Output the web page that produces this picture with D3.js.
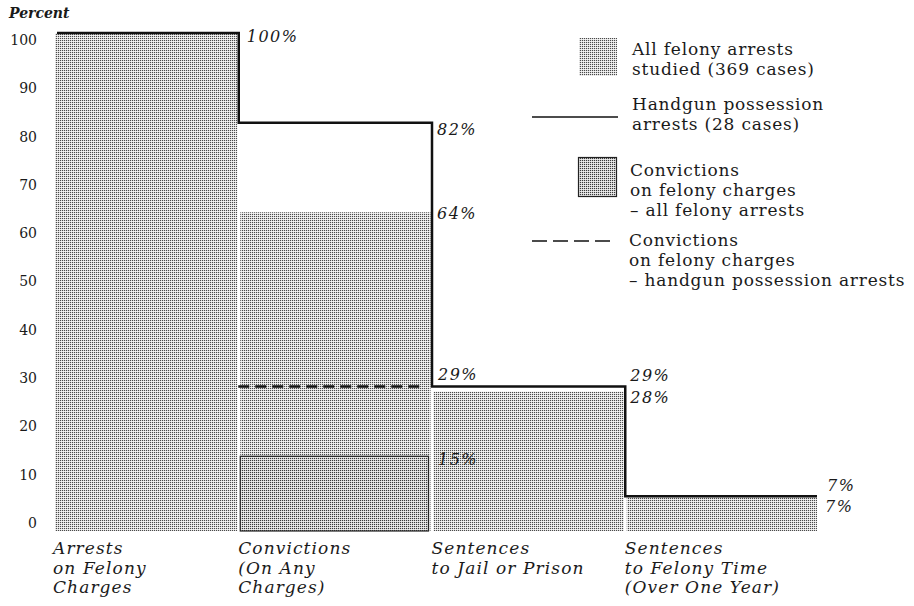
<!DOCTYPE html>
<html>
<head>
<meta charset="utf-8">
<script src="https://cdn.jsdelivr.net/npm/d3@7"></script>
<style>
  html, body { margin: 0; padding: 0; background: #fff; }
  svg { display: block; }
  text { font-family: "DejaVu Serif", "Liberation Serif", serif; fill: #1a1a1a; }
</style>
</head>
<body>
<svg id="chart" width="914" height="606"></svg>
<script>
// ---------------- data ----------------
const categories = [
  "Arrests on Felony Charges",
  "Convictions (On Any Charges)",
  "Sentences to Jail or Prison",
  "Sentences to Felony Time (Over One Year)"
];
const categoryLines = [
  ["Arrests", "on Felony", "Charges"],
  ["Convictions", "(On Any", "Charges)"],
  ["Sentences", "to Jail or Prison"],
  ["Sentences", "to Felony Time", "(Over One Year)"]
];
const allFelonyArrests = [100, 64, 28, 7];          // shaded bars (369 cases)
const handgunArrests = [100, 82, 29, 7];            // solid step line (28 cases)
const felonyConvictionsAll = 15;                    // darker box, Convictions column
const felonyConvictionsHandgun = 29;                // dashed line, Convictions column
const yTicks = [0, 10, 20, 30, 40, 50, 60, 70, 80, 90, 100];
const legendLabels = [
  ["All felony arrests", "studied (369 cases)"],
  ["Handgun possession", "arrests (28 cases)"],
  ["Convictions", "on felony charges", "\u2013 all felony arrests"],
  ["Convictions", "on felony charges", "\u2013 handgun possession arrests"]
];

// ---------------- layout ----------------
const svg = d3.select("#chart");
const plotLeft = 55;
const x = d3.scaleBand().domain(categories).range([47, 817]).paddingInner(3 / 193).paddingOuter(0);
const y = d3.scaleLinear().domain([0, 100]).range([531, 33]);
const yLab = d3.scaleLinear().domain([0, 100]).range([523, 40]);
const bw = x.bandwidth();
const gap = x.step() - bw;
const left = c => Math.max(x(c), plotLeft);
const edge = i => x(categories[i]) + bw + (i < categories.length - 1 ? gap / 2 : 0);

// patterns (halftone-ish stipple)
const defs = svg.append("defs");
function stipple(id, cols) {
  const p = defs.append("pattern").attr("id", id).attr("patternUnits", "userSpaceOnUse")
    .attr("width", 2).attr("height", 2);
  [[0, 0], [1, 0], [0, 1], [1, 1]].forEach((d, i) =>
    p.append("rect").attr("x", d[0]).attr("y", d[1]).attr("width", 1).attr("height", 1).attr("fill", cols[i]));
}
stipple("lightDots", ["#4a4a4a", "#d6d6d6", "#e2e2e2", "#f5f5f5"]);
stipple("darkDots", ["#3a3a3a", "#cbcbcb", "#d8d8d8", "#eeeeee"]);

svg.append("rect").attr("width", 914).attr("height", 606).attr("fill", "#fff");

// ---------------- bars ----------------
svg.append("g").selectAll("rect")
  .data(categories)
  .join("rect")
  .attr("x", c => left(c))
  .attr("width", c => x(c) + bw - left(c))
  .attr("y", (c, i) => y(allFelonyArrests[i]))
  .attr("height", (c, i) => y(0) - y(allFelonyArrests[i]))
  .attr("fill", "url(#lightDots)");

// felony convictions — all felony arrests (darker box)
const convCat = categories[1];
svg.append("rect")
  .attr("x", x(convCat))
  .attr("width", bw - 2)
  .attr("y", y(felonyConvictionsAll))
  .attr("height", y(0) - y(felonyConvictionsAll))
  .attr("fill", "url(#darkDots)")
  .attr("stroke", "#222")
  .attr("stroke-width", 1.2);

// felony convictions — handgun (dashed)
svg.append("line")
  .attr("x1", x(convCat) - 2).attr("x2", x(convCat) + bw - 8)
  .attr("y1", y(felonyConvictionsHandgun)).attr("y2", y(felonyConvictionsHandgun))
  .attr("stroke", "#111").attr("stroke-width", 2.5).attr("stroke-dasharray", "11,6");

// handgun possession step line
const stepPts = [];
handgunArrests.forEach((v, i) => {
  const x0 = i === 0 ? plotLeft + 2 : edge(i - 1);
  stepPts.push([x0, y(v)], [edge(i), y(v)]);
});
svg.append("path")
  .attr("d", d3.line()(stepPts))
  .attr("fill", "none").attr("stroke", "#111").attr("stroke-width", 2.5)
  .attr("stroke-linejoin", "miter");

// ---------------- value labels ----------------
const annotations = [
  { v: handgunArrests[0], col: 0, dx: 8, dy: 4 },
  { v: handgunArrests[1], col: 1, dx: 5, dy: 8 },
  { v: allFelonyArrests[1], col: 1, dx: 5, dy: 2 },
  { v: felonyConvictionsHandgun, col: 1, dx: 6, dy: -11 },
  { v: felonyConvictionsAll, col: 1, dx: 6, dy: 4 },
  { v: handgunArrests[2], col: 2, dx: 5, dy: -10 },
  { v: allFelonyArrests[2], col: 2, dx: 5, dy: 7 },
  { v: handgunArrests[3], col: 3, dx: 10, dy: -10 },
  { v: allFelonyArrests[3], col: 3, dx: 8, dy: 11 }
];
svg.append("g").selectAll("text")
  .data(annotations)
  .join("text")
  .attr("x", d => edge(d.col) + d.dx)
  .attr("y", d => y(d.v) + d.dy)
  .attr("dominant-baseline", "middle")
  .attr("font-style", "italic")
  .attr("font-size", 16)
  .attr("letter-spacing", 1.5)
  .text(d => d.v + "%");

// ---------------- axis ----------------
const axis = d3.axisLeft(yLab).tickValues(yTicks).tickSize(0).tickPadding(0).tickFormat(d3.format("d"));
const gA = svg.append("g").attr("transform", "translate(37,0)").call(axis);
gA.select(".domain").remove();
gA.selectAll("text")
  .attr("font-family", "DejaVu Serif, serif")
  .attr("font-size", 14)
  .attr("fill", "#1a1a1a");

svg.append("text").attr("x", 9).attr("y", 18)
  .attr("font-style", "italic").attr("font-weight", "bold").attr("font-size", 14)
  .text("Percent");

// ---------------- category labels ----------------
const catG = svg.append("g").selectAll("text")
  .data(categories)
  .join("text")
  .attr("font-style", "italic")
  .attr("font-size", 17)
  .attr("letter-spacing", 1.1);
catG.each(function (c, i) {
  d3.select(this).selectAll("tspan")
    .data(categoryLines[i])
    .join("tspan")
    .attr("x", left(c) - 2)
    .attr("y", (t, j) => y(0) + 23 + j * 19.5)
    .text(t => t);
});

// ---------------- legend ----------------
const lg = svg.append("g");
lg.append("rect").attr("x", 579).attr("y", 38).attr("width", 38).attr("height", 38)
  .attr("fill", "url(#lightDots)");
lg.append("line").attr("x1", 532).attr("x2", 618).attr("y1", 117).attr("y2", 117)
  .attr("stroke", "#111").attr("stroke-width", 1.6);
lg.append("rect").attr("x", 578.5).attr("y", 157.5).attr("width", 38).attr("height", 39)
  .attr("fill", "url(#darkDots)").attr("stroke", "#222").attr("stroke-width", 1.2);
lg.append("line").attr("x1", 532).attr("x2", 614).attr("y1", 241).attr("y2", 241)
  .attr("stroke", "#111").attr("stroke-width", 1.6).attr("stroke-dasharray", "15,6");

const legendTop = [55, 110, 176, 246];
const legendX = [632, 632, 630, 629];
legendLabels.forEach((lines, k) => {
  const t = lg.append("text").attr("font-size", 17).attr("letter-spacing", 0.8);
  t.selectAll("tspan").data(lines).join("tspan")
    .attr("x", legendX[k])
    .attr("y", (d, j) => legendTop[k] + j * 20)
    .text(d => d);
});
</script>
</body>
</html>
